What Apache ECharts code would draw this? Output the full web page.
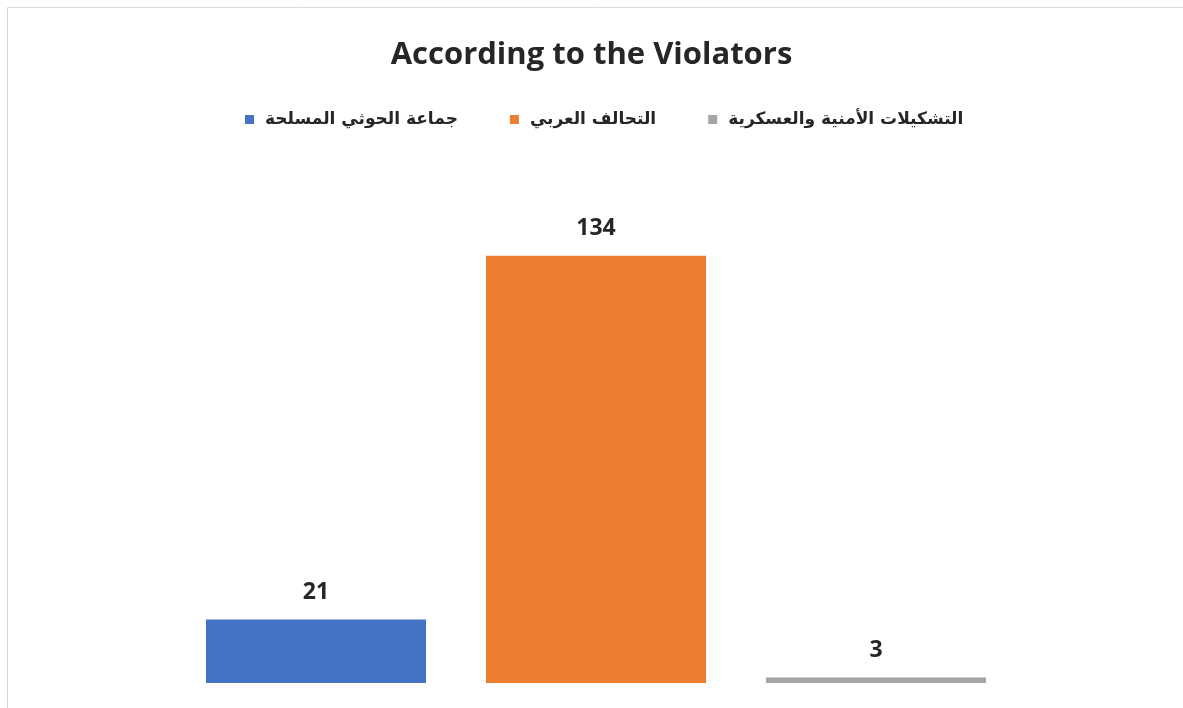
<!DOCTYPE html>
<html>
<head>
<meta charset="utf-8">
<script src="https://cdn.jsdelivr.net/npm/echarts@6/dist/echarts.min.js"></script>
<style>
  html, body { margin: 0; padding: 0; background: #fff; }
  #chart { width: 1183px; height: 708px; }
</style>
</head>
<body>
<div id="chart"></div>
<script>
// data
const categories = ['جماعة الحوثي المسلحة', 'التحالف العربي', 'التشكيلات الأمنية والعسكرية']
const values = [21, 134, 3]
const colors = ['#4472C4', '#ED7D31', '#A5A5A5']

const chart = echarts.init(document.getElementById('chart'))

// one series per category so each gets its own legend entry
const series = categories.map((name, i) => ({
  name: name,
  type: 'bar',
  stack: 'all',
  barWidth: '78.6%',
  clip: true,
  data: categories.map((c, j) => (j === i ? values[i] : '-')),
  itemStyle: { color: colors[i] },
  label: {
    show: true,
    position: 'top',
    distance: 16,
    color: '#262626',
    fontSize: 23,
    fontWeight: 'bold',
    fontFamily: 'Open Sans, sans-serif'
  }
}))

chart.setOption({
  backgroundColor: '#fff',
  animation: false,
  title: {
    text: 'According to the Violators',
    left: 'center',
    top: 35,
    textStyle: {
      color: '#262626',
      fontSize: 31,
      fontWeight: 'bold',
      fontFamily: 'Open Sans, sans-serif'
    }
  },
  legend: {
    top: 106,
    left: 240,
    icon: 'rect',
    itemWidth: 9,
    itemHeight: 9,
    itemGap: 52,
    data: categories,
    textStyle: {
      color: '#262626',
      fontSize: 17,
      fontWeight: 'bold',
      fontFamily: 'DejaVu Sans, sans-serif',
      padding: [0, 0, 0, 6]
    }
  },
  grid: { left: 176, right: 167, top: 172, bottom: 25 },
  xAxis: {
    type: 'category',
    data: categories,
    show: false
  },
  yAxis: {
    type: 'value',
    min: 1.3,
    max: 160,
    show: false,
    splitLine: { show: false }
  },
  graphic: [{
    type: 'rect',
    shape: { x: 7.5, y: 7.5, width: 1200, height: 720 },
    style: { fill: 'none', stroke: '#d9d9d9', lineWidth: 1 },
    silent: true
  }],
  series: series
})
</script>
</body>
</html>
